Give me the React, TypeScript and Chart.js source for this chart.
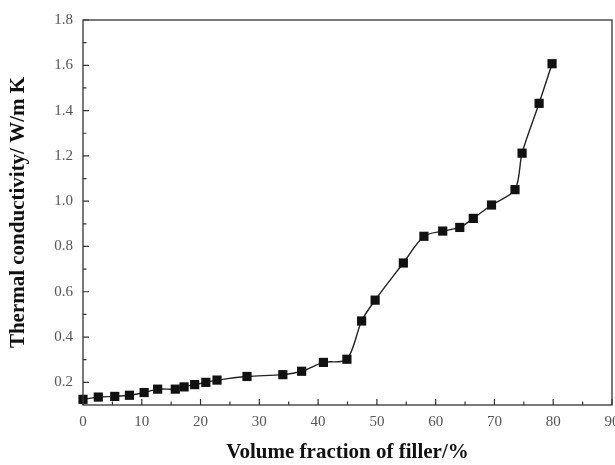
import React, { useEffect, useRef } from "react";
import { Chart, registerables } from "chart.js";

Chart.register(...registerables);

const volumeFraction = [0, 2.6, 5.4, 7.9, 10.4, 12.7, 15.7, 17.2, 19.0, 20.9, 22.8, 27.9, 34.0, 37.2, 40.9, 44.9, 47.4, 49.7, 54.5, 58.0, 61.2, 64.1, 66.4, 69.5, 73.5, 74.7, 77.6, 79.8];
const conductivity = [0.125, 0.135, 0.138, 0.143, 0.155, 0.17, 0.17, 0.18, 0.19, 0.20, 0.21, 0.226, 0.234, 0.249, 0.288, 0.302, 0.471, 0.563, 0.727, 0.845, 0.868, 0.884, 0.924, 0.983, 1.051, 1.212, 1.432, 1.607];

const xMajorTicks = [0, 10, 20, 30, 40, 50, 60, 70, 80, 90];
const xMinorTicks = [5, 15, 25, 35, 45, 55, 65, 75, 85];
const yMajorTicks = [0.2, 0.4, 0.6, 0.8, 1.0, 1.2, 1.4, 1.6, 1.8];
const yMinorTicks = [0.3, 0.5, 0.7, 0.9, 1.1, 1.3, 1.5, 1.7];
const xEdgeLabel = 90;

const xTitle = "Volume fraction of filler/%";
const yTitle = "Thermal conductivity/ W/m K";

const tickFontSize = 15;
const tickFont = `${tickFontSize}px 'Liberation Serif'`;
const tickColor = "#555";

const framePlugin = {
  id: "frameTicks",
  afterDraw(chart: any) {
    const { ctx, chartArea, scales } = chart;
    const { left, right, top, bottom } = chartArea;
    const x = scales.x;
    const y = scales.y;
    ctx.save();
    ctx.strokeStyle = "#333";
    ctx.lineWidth = 1.3;
    ctx.strokeRect(left, top, right - left, bottom - top);
    ctx.lineWidth = 1.2;
    ctx.beginPath();
    xMajorTicks.forEach((v) => {
      const px = x.getPixelForValue(v);
      ctx.moveTo(px, bottom);
      ctx.lineTo(px, bottom - 6);
    });
    xMinorTicks.forEach((v) => {
      const px = x.getPixelForValue(v);
      ctx.moveTo(px, bottom);
      ctx.lineTo(px, bottom - 3.5);
    });
    yMajorTicks.forEach((v) => {
      const py = y.getPixelForValue(v);
      ctx.moveTo(left, py);
      ctx.lineTo(left + 6, py);
    });
    yMinorTicks.forEach((v) => {
      const py = y.getPixelForValue(v);
      ctx.moveTo(left, py);
      ctx.lineTo(left + 3.5, py);
    });
    ctx.stroke();
    // edge tick label, clipped by the canvas edge as in the original
    ctx.font = tickFont;
    ctx.fillStyle = tickColor;
    ctx.textAlign = "center";
    ctx.textBaseline = "middle";
    ctx.fillText(String(xEdgeLabel), x.getPixelForValue(xEdgeLabel), bottom + 8 + tickFontSize * 0.6);
    ctx.restore();
  },
};

export default function App() {
  const canvasRef = useRef<HTMLCanvasElement | null>(null);

  useEffect(() => {
    document.body.style.margin = "0";
    const canvas = canvasRef.current;
    if (!canvas) return;
    const chart = new Chart(canvas, {
      type: "line",
      data: {
        datasets: [
          {
            data: volumeFraction.map((v, i) => ({ x: v, y: conductivity[i] })),
            borderColor: "#222",
            backgroundColor: "#111",
            borderWidth: 1.4,
            pointStyle: "rect",
            pointRadius: 6.5,
            pointBorderWidth: 0,
            pointBackgroundColor: "#111",
            tension: 0.3,
            clip: false as any,
          },
        ],
      },
      options: {
        animation: false,
        responsive: false,
        maintainAspectRatio: false,
        layout: { autoPadding: false, padding: { top: 20, right: 3, left: 0, bottom: 0 } },
        plugins: { legend: { display: false }, tooltip: { enabled: false } },
        scales: {
          x: {
            type: "linear",
            min: 0,
            max: 90,
            afterFit: (s: any) => {
              s.height = 60;
              s.paddingLeft = 0;
              s.paddingRight = 0;
            },
            afterBuildTicks: (s: any) => {
              s.ticks = xMajorTicks.map((v) => ({ value: v }));
            },
            grid: { display: false, drawTicks: false },
            border: { display: false },
            ticks: {
              padding: 8,
              color: tickColor,
              font: { family: "Liberation Serif", size: tickFontSize },
              maxRotation: 0,
              autoSkip: false,
              callback: (v: any) => (Number(v) === xEdgeLabel ? "" : String(v)),
            },
            title: {
              display: true,
              text: xTitle,
              color: "#111",
              font: { family: "Liberation Serif", size: 21, weight: "bold" },
              padding: { top: 0, bottom: 0 },
            },
          },
          y: {
            type: "linear",
            min: 0.1,
            max: 1.8,
            afterFit: (s: any) => {
              s.width = 83;
              s.paddingTop = 0;
              s.paddingBottom = 0;
            },
            afterBuildTicks: (s: any) => {
              s.ticks = yMajorTicks.map((v) => ({ value: v }));
            },
            grid: { display: false, drawTicks: false },
            border: { display: false },
            ticks: {
              padding: 10,
              color: tickColor,
              font: { family: "Liberation Serif", size: tickFontSize },
              autoSkip: false,
              callback: (v: any) => Number(v).toFixed(1),
            },
            title: {
              display: true,
              text: yTitle,
              color: "#111",
              font: { family: "Liberation Serif", size: 21, weight: "bold" },
              padding: { top: 6, bottom: 0 },
            },
          },
        },
      },
      plugins: [framePlugin],
    });
    return () => chart.destroy();
  }, []);

  return (
    <div style={{ width: 615, height: 465, background: "#fff", overflow: "hidden" }}>
      <canvas ref={canvasRef} width={615} height={465} style={{ width: 615, height: 465, display: "block" }} />
    </div>
  );
}
